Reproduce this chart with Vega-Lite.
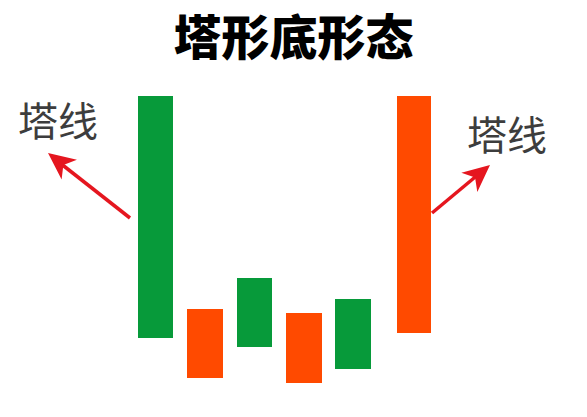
{
  "$schema": "https://vega.github.io/schema/vega-lite/v6.json",
  "width": 587,
  "height": 347,
  "padding": {"top": 70, "left": 0, "right": 0, "bottom": 0},
  "autosize": {"type": "none"},
  "background": "white",
  "title": {
    "text": "塔形底形态",
    "font": "Noto Sans CJK SC",
    "fontSize": 48,
    "fontWeight": 900,
    "color": "#000000",
    "anchor": "middle",
    "offset": 5
  },
  "config": {"view": {"stroke": null}},
  "datasets": {
    "candles": [
      {"day": 1, "x0": 138, "x1": 173, "open": 79, "close": 321, "dir": "up"},
      {"day": 2, "x0": 187, "x1": 223, "open": 108, "close": 39, "dir": "down"},
      {"day": 3, "x0": 237, "x1": 272, "open": 70, "close": 139, "dir": "up"},
      {"day": 4, "x0": 286, "x1": 322, "open": 104, "close": 34, "dir": "down"},
      {"day": 5, "x0": 335, "x1": 371, "open": 48, "close": 118, "dir": "up"},
      {"day": 6, "x0": 397, "x1": 431, "open": 321, "close": 84, "dir": "down"}
    ],
    "arrows": [
      {"arrow": "left", "x": 130, "p": 199, "end": "tail"},
      {"arrow": "left", "x": 60, "p": 254, "end": "tip"},
      {"arrow": "left", "x": 48, "p": 264, "end": "head"},
      {"arrow": "right", "x": 432, "p": 204, "end": "tail"},
      {"arrow": "right", "x": 480, "p": 244, "end": "tip"},
      {"arrow": "right", "x": 490, "p": 252, "end": "head"}
    ],
    "labels": [
      {"label": "塔线", "x": 58, "p": 293},
      {"label": "塔线", "x": 507, "p": 279}
    ]
  },
  "layer": [
    {
      "data": {"name": "candles"},
      "mark": {"type": "rect"},
      "encoding": {
        "x": {"field": "x0", "type": "quantitative", "scale": {"domain": [0, 587], "nice": false, "zero": false}, "axis": null},
        "x2": {"field": "x1"},
        "y": {"field": "open", "type": "quantitative", "scale": {"domain": [0, 347], "nice": false, "zero": false}, "axis": null},
        "y2": {"field": "close"},
        "color": {"field": "dir", "type": "nominal", "scale": {"domain": ["up", "down"], "range": ["#079a3a", "#ff4a00"]}, "legend": null}
      }
    },
    {
      "data": {"name": "arrows"},
      "transform": [{"filter": "datum.end !== 'head'"}],
      "mark": {"type": "line", "color": "#e5161f", "strokeWidth": 3.5},
      "encoding": {
        "x": {"field": "x", "type": "quantitative"},
        "y": {"field": "p", "type": "quantitative"},
        "detail": {"field": "arrow"},
        "order": {"field": "end", "sort": "descending"}
      }
    },
    {
      "data": {"name": "arrows"},
      "transform": [{"filter": "datum.end === 'head' && datum.arrow === 'left'"}],
      "mark": {"type": "point", "shape": "M0,0L0.83,1.8L0,1.3L-0.83,1.8Z", "filled": true, "color": "#e5161f", "opacity": 1, "size": 900, "angle": 308},
      "encoding": {
        "x": {"field": "x", "type": "quantitative"},
        "y": {"field": "p", "type": "quantitative"}
      }
    },
    {
      "data": {"name": "arrows"},
      "transform": [{"filter": "datum.end === 'head' && datum.arrow === 'right'"}],
      "mark": {"type": "point", "shape": "M0,0L0.83,1.8L0,1.3L-0.83,1.8Z", "filled": true, "color": "#e5161f", "opacity": 1, "size": 900, "angle": 50},
      "encoding": {
        "x": {"field": "x", "type": "quantitative"},
        "y": {"field": "p", "type": "quantitative"}
      }
    },
    {
      "data": {"name": "labels"},
      "mark": {"type": "text", "font": "Noto Sans CJK SC", "fontSize": 40, "color": "#3d3d3d", "align": "center", "baseline": "middle"},
      "encoding": {
        "x": {"field": "x", "type": "quantitative"},
        "y": {"field": "p", "type": "quantitative"},
        "text": {"field": "label"}
      }
    }
  ]
}
